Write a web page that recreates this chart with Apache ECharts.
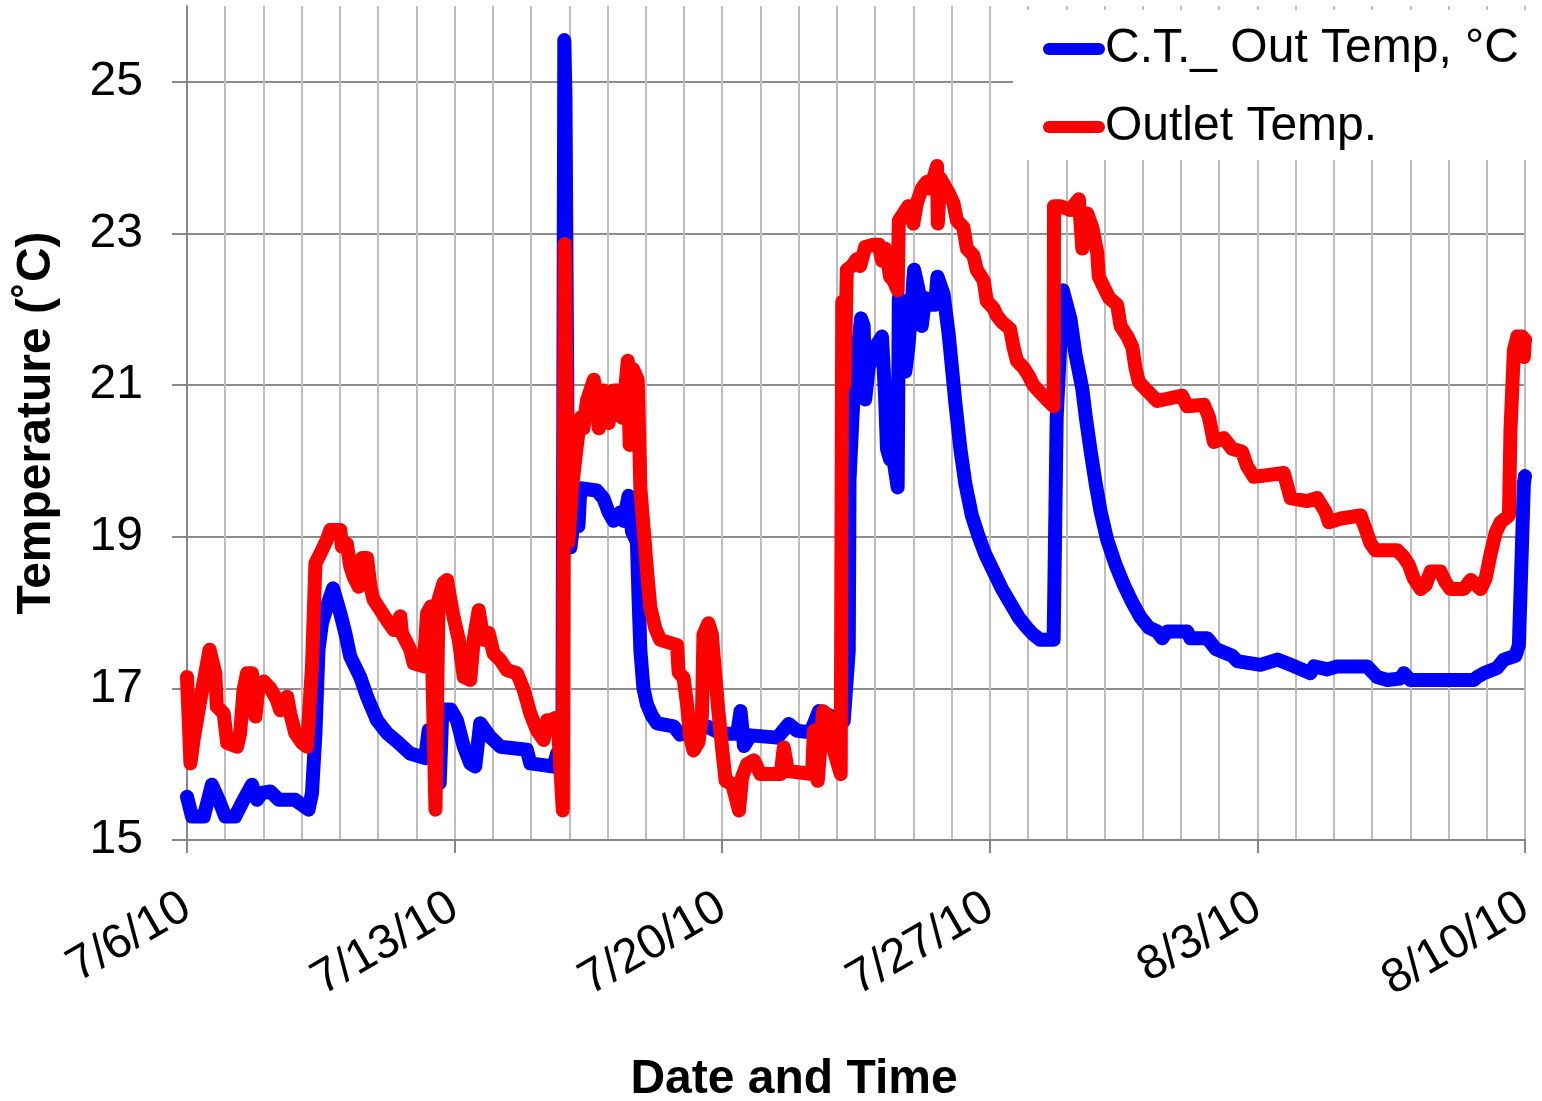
<!DOCTYPE html>
<html>
<head>
<meta charset="utf-8">
<title>C.T. Out Temp and Outlet Temp</title>
<script src="https://cdn.jsdelivr.net/npm/echarts@6/dist/echarts.min.js"></script>
<style>
  html, body { margin: 0; padding: 0; background: #fff; }
  #chart { width: 1542px; height: 1101px; }
</style>
</head>
<body>
<div id="chart"></div>
<script>
// Weekly date labels on the time axis (x is days elapsed since 7/6/10 00:00)
const dateLabels = ['7/6/10', '7/13/10', '7/20/10', '7/27/10', '8/3/10', '8/10/10'];
const dayRange = [0, 35];
const tempTicks = [15, 17, 19, 21, 23, 25];
const tempRange = [15, 26];

// C.T._ Out Temp, °C  — [days since 7/6/10, °C]
const ctOutTemp = [
  [0,15.57],[0.13,15.31],[0.44,15.31],[0.65,15.73],[0.83,15.53],[1.0,15.31],[1.26,15.31],[1.48,15.53],
  [1.7,15.73],[1.83,15.53],[1.96,15.62],[2.18,15.64],[2.4,15.53],[2.83,15.53],[2.96,15.48],[3.18,15.4],
  [3.27,15.62],[3.36,16.41],[3.44,17.51],[3.53,17.86],[3.66,18.08],[3.82,18.32],[4.01,17.99],[4.14,17.73],
  [4.27,17.42],[4.53,17.15],[4.71,16.89],[4.97,16.58],[5.23,16.41],[5.49,16.3],[5.84,16.14],[6.23,16.08],
  [6.32,16.45],[6.55,16.45],[6.61,15.75],[6.68,16.72],[6.9,16.72],[7.06,16.58],[7.24,16.23],[7.41,16.01],
  [7.54,15.97],[7.67,16.54],[7.93,16.36],[8.2,16.23],[8.89,16.19],[8.98,16.01],[9.59,15.97],[9.68,16.14],
  [9.82,16.1],[9.87,25.55],[9.9,24.8],[9.97,19.0],[10.03,18.86],[10.11,19.21],[10.24,19.14],[10.29,19.64],
  [10.72,19.61],[10.9,19.5],[11.03,19.32],[11.16,19.21],[11.33,19.32],[11.42,19.21],[11.55,19.54],[11.64,19.07],
  [11.77,18.93],[11.81,18.21],[11.86,17.5],[11.94,17.0],[12.03,16.79],[12.16,16.64],[12.29,16.54],[12.73,16.5],
  [12.9,16.39],[13.6,16.5],[13.86,16.43],[14.13,16.4],[14.39,16.4],[14.48,16.7],[14.57,16.24],[14.74,16.38],
  [15.44,16.35],[15.74,16.53],[15.96,16.44],[16.31,16.42],[16.53,16.7],[16.92,16.62],[17.18,16.57],[17.31,17.5],
  [17.33,19.75],[17.39,20.39],[17.44,20.9],[17.52,21.32],[17.63,21.88],[17.7,21.78],[17.74,20.81],[17.83,21.23],
  [18.0,21.5],[18.18,21.64],[18.26,20.86],[18.31,20.16],[18.39,20.02],[18.48,20.02],[18.59,19.65],[18.62,22.15],
  [18.7,21.6],[18.79,21.18],[18.87,21.5],[19.02,22.52],[19.14,22.25],[19.22,21.78],[19.31,22.15],[19.44,22.06],
  [19.57,22.06],[19.63,22.43],[19.79,22.2],[19.92,21.69],[20.01,21.23],[20.1,20.76],[20.23,20.16],[20.36,19.7],
  [20.53,19.28],[20.71,19.0],[20.88,18.77],[21.1,18.54],[21.32,18.31],[21.53,18.13],[21.75,17.94],[21.97,17.8],
  [22.14,17.71],[22.32,17.64],[22.67,17.64],[22.75,20.58],[22.91,22.25],[22.94,22.25],[23.11,21.87],[23.24,21.41],
  [23.42,20.95],[23.51,20.58],[23.64,20.12],[23.77,19.7],[23.9,19.33],[24.07,18.96],[24.29,18.63],[24.51,18.36],
  [24.73,18.13],[24.94,17.94],[25.16,17.8],[25.38,17.75],[25.51,17.66],[25.64,17.75],[26.16,17.75],[26.25,17.66],
  [26.69,17.66],[26.91,17.52],[27.34,17.43],[27.47,17.36],[28.08,17.31],[28.52,17.38],[28.87,17.31],[29.39,17.2],
  [29.48,17.29],[29.83,17.25],[30.09,17.29],[30.87,17.29],[31.13,17.15],[31.4,17.11],[31.74,17.13],[31.83,17.2],
  [32.0,17.11],[33.66,17.11],[33.75,17.15],[33.92,17.2],[34.27,17.27],[34.45,17.38],[34.75,17.43],[34.84,17.57],
  [34.9,18.54],[34.97,19.7],[35.0,19.8]
];

// Outlet Temp. — [days since 7/6/10, °C]
const outletTemp = [
  [0,17.15],[0.09,16.01],[0.17,16.32],[0.35,16.85],[0.59,17.51],[0.74,17.2],[0.78,16.76],[0.96,16.67],
  [1.05,16.28],[1.31,16.23],[1.39,16.41],[1.48,16.98],[1.57,17.2],[1.7,17.2],[1.79,16.63],[1.87,17.02],
  [2.01,17.09],[2.18,17.0],[2.35,16.85],[2.44,16.71],[2.62,16.89],[2.7,16.67],[2.83,16.41],[3.01,16.28],
  [3.14,16.23],[3.27,17.29],[3.36,18.65],[3.49,18.78],[3.66,18.96],[3.75,19.09],[4.01,19.09],[4.05,18.87],
  [4.18,18.91],[4.27,18.61],[4.36,18.47],[4.49,18.34],[4.58,18.72],[4.71,18.72],[4.8,18.34],[4.88,18.17],
  [5.06,18.03],[5.23,17.9],[5.41,17.77],[5.58,17.95],[5.62,17.73],[5.84,17.51],[5.93,17.33],[6.19,17.29],
  [6.28,17.99],[6.38,18.08],[6.5,15.4],[6.58,18.17],[6.71,18.39],[6.8,18.43],[6.89,18.17],[6.97,17.95],
  [7.11,17.64],[7.24,17.15],[7.41,17.11],[7.5,17.64],[7.63,18.03],[7.76,17.64],[7.89,17.73],[8.02,17.46],
  [8.2,17.37],[8.37,17.24],[8.63,17.2],[8.81,16.98],[8.98,16.67],[9.15,16.45],[9.33,16.32],[9.42,16.58],
  [9.5,16.57],[9.63,16.61],[9.72,16.36],[9.83,15.39],[9.88,22.86],[9.98,18.93],[10.07,19.64],[10.2,20.21],
  [10.29,20.57],[10.37,20.43],[10.46,20.79],[10.64,21.07],[10.72,20.86],[10.77,20.43],[10.9,20.93],[11.03,20.5],
  [11.16,20.93],[11.33,20.93],[11.38,20.57],[11.46,20.93],[11.53,21.32],[11.58,20.21],[11.67,21.21],[11.79,21.07],
  [11.86,19.64],[11.94,19.14],[12.03,18.57],[12.12,18.07],[12.25,17.79],[12.38,17.64],[12.82,17.57],[12.86,17.21],
  [12.99,17.14],[13.08,16.79],[13.16,16.36],[13.25,16.18],[13.38,16.29],[13.47,16.64],[13.51,17.71],[13.64,17.86],
  [13.73,17.71],[13.78,17.4],[13.9,16.7],[14.0,16.2],[14.09,15.78],[14.26,15.74],[14.44,15.39],[14.52,15.83],
  [14.65,16.0],[14.83,16.05],[15.0,15.87],[15.53,15.87],[15.61,16.22],[15.72,15.91],[16.35,15.87],[16.4,16.44],
  [16.5,15.78],[16.64,16.7],[16.79,16.62],[16.92,16.18],[17.1,15.87],[17.14,22.1],[17.2,21.0],[17.26,22.52],
  [17.39,22.57],[17.52,22.66],[17.61,22.57],[17.74,22.82],[17.96,22.85],[18.1,22.85],[18.18,22.64],[18.26,22.8],
  [18.31,22.71],[18.39,22.43],[18.48,22.38],[18.59,22.25],[18.62,23.17],[18.74,23.26],[18.87,23.36],[19.0,23.13],
  [19.09,23.4],[19.22,23.59],[19.35,23.68],[19.44,23.59],[19.55,23.77],[19.62,23.89],[19.64,23.13],[19.7,23.73],
  [19.92,23.54],[20.05,23.4],[20.14,23.17],[20.31,23.08],[20.4,22.8],[20.57,22.71],[20.66,22.52],[20.84,22.38],
  [20.92,22.11],[21.1,22.01],[21.18,21.92],[21.32,21.83],[21.53,21.74],[21.62,21.5],[21.71,21.32],[21.88,21.23],
  [22.01,21.13],[22.14,21.0],[22.32,20.9],[22.49,20.81],[22.67,20.72],[22.68,23.36],[22.84,23.36],[23.1,23.31],
  [23.33,23.45],[23.42,22.8],[23.55,23.26],[23.68,23.08],[23.81,22.75],[23.85,22.43],[24.12,22.15],[24.33,22.06],
  [24.42,21.78],[24.6,21.64],[24.73,21.5],[24.81,21.23],[24.9,21.04],[25.07,20.95],[25.38,20.79],[26.03,20.86],
  [26.16,20.72],[26.6,20.74],[26.73,20.58],[26.86,20.25],[27.12,20.3],[27.34,20.16],[27.6,20.12],[27.73,19.93],
  [27.91,19.79],[28.69,19.84],[28.87,19.51],[29.3,19.47],[29.56,19.51],[29.78,19.33],[29.87,19.19],[30.18,19.24],
  [30.7,19.28],[30.83,19.1],[30.96,18.91],[31.09,18.82],[31.66,18.82],[31.83,18.73],[31.96,18.63],[32.09,18.45],
  [32.27,18.31],[32.4,18.36],[32.53,18.54],[32.79,18.54],[32.92,18.4],[33.05,18.31],[33.4,18.31],[33.58,18.43],
  [33.84,18.31],[33.97,18.45],[34.1,18.77],[34.23,19.05],[34.36,19.19],[34.58,19.28],[34.62,20.4],[34.71,21.46],
  [34.8,21.64],[34.93,21.64],[34.97,21.37],[35.0,21.6]
];

const FONT = '"Liberation Sans", Arial, Helvetica, sans-serif';
const FONT_SIZE = 48;
const AXIS_GRAY = '#878787';

const chart = echarts.init(document.getElementById('chart'), null, { renderer: 'canvas' });

const lineSeries = (name, data, color) => ({
  name: name,
  type: 'line',
  data: data,
  xAxisIndex: 0,
  yAxisIndex: 0,
  showSymbol: false,
  symbol: 'none',
  sampling: null,
  clip: true,
  color: color,
  lineStyle: { color: color, width: 14, cap: 'round', join: 'round' },
  emphasis: { disabled: true }
});

chart.setOption({
  animation: false,
  backgroundColor: '#ffffff',
  textStyle: { fontFamily: FONT },
  grid: { left: 187, right: 17, top: 6, bottom: 261, containLabel: false, outerBoundsMode: 'none' },
  legend: {
    orient: 'vertical',
    left: 1013,
    top: 10,
    padding: [14, 10, 8, 30],
    backgroundColor: '#ffffff',
    itemWidth: 62,
    itemHeight: 13,
    itemGap: 28,
    icon: 'path://M6,0 H56 A6,6 0 0 1 56,12 H6 A6,6 0 0 1 6,0 Z',
    textStyle: { fontFamily: FONT, fontSize: FONT_SIZE, color: '#000', lineHeight: 50, padding: [0, 0, 0, -5] },
    data: ['C.T._ Out Temp, °C', 'Outlet Temp.']
  },
  xAxis: [
    {
      type: 'value',
      min: dayRange[0],
      max: dayRange[1],
      interval: 7,
      position: 'bottom',
      name: 'Date and Time',
      nameLocation: 'middle',
      nameGap: 216,
      nameTextStyle: { fontFamily: FONT, fontSize: FONT_SIZE, fontWeight: 'bold', color: '#000', padding: [0, 124, 0, 0] },
      axisLine: { show: true, onZero: false, lineStyle: { color: AXIS_GRAY, width: 2 } },
      axisTick: { show: true, inside: false, length: 13, lineStyle: { color: AXIS_GRAY, width: 2 } },
      axisLabel: {
        rotate: 30,
        margin: 64,
        fontFamily: FONT,
        fontSize: FONT_SIZE,
        color: '#000',
        showMinLabel: true,
        showMaxLabel: true,
        formatter: v => dateLabels[Math.round(v / 7)] || ''
      },
      splitLine: { show: false }
    },
    {
      // daily grid lines
      type: 'value',
      min: dayRange[0],
      max: dayRange[1],
      interval: 1,
      position: 'top',
      axisLine: { show: false },
      axisTick: { show: false },
      axisLabel: { show: false },
      splitLine: { show: true, lineStyle: { color: '#bdbdbd', width: 2 } }
    }
  ],
  yAxis: {
    type: 'value',
    min: tempRange[0],
    max: tempRange[1],
    name: 'Temperature (˚C)',
    nameLocation: 'middle',
    nameRotate: 90,
    nameGap: 126,
    nameTextStyle: { fontFamily: FONT, fontSize: FONT_SIZE, fontWeight: 'bold', color: '#000' },
    axisLine: { show: true, lineStyle: { color: AXIS_GRAY, width: 2 } },
    axisTick: { show: true, inside: false, length: 15, customValues: tempTicks, lineStyle: { color: AXIS_GRAY, width: 2 } },
    axisLabel: { customValues: tempTicks, margin: 44, fontFamily: FONT, fontSize: FONT_SIZE, color: '#000' },
    splitLine: { show: true, lineStyle: { color: '#8c8c8c', width: 2 } }
  },
  series: [
    lineSeries('C.T._ Out Temp, °C', ctOutTemp, '#0000ff'),
    lineSeries('Outlet Temp.', outletTemp, '#ff0000')
  ]
});
</script>
</body>
</html>
